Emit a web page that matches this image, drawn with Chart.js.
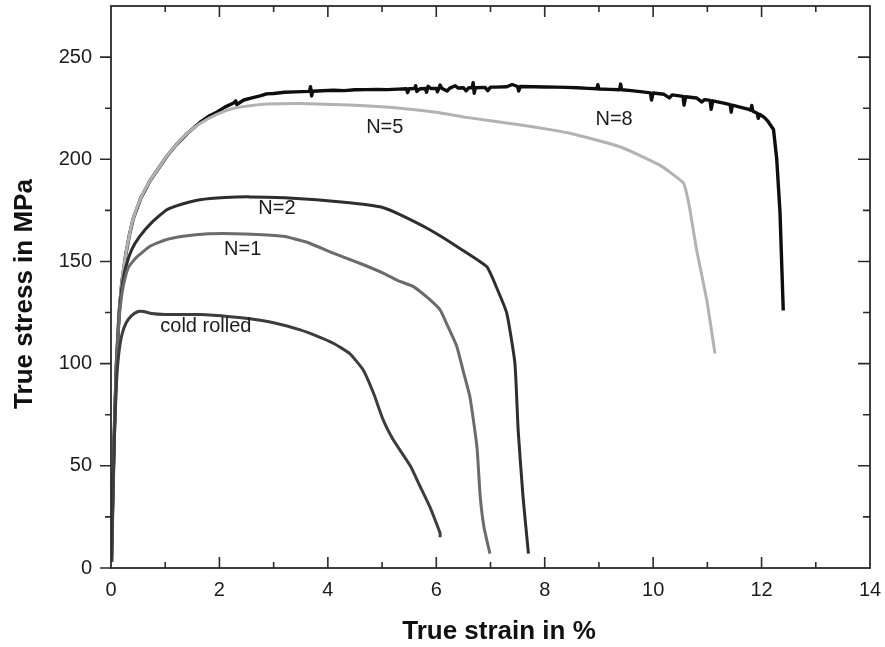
<!DOCTYPE html>
<html>
<head>
<meta charset="utf-8">
<script src="https://cdn.jsdelivr.net/npm/chart.js@4.4.0/dist/chart.umd.min.js"></script>
<style>
  html, body { margin: 0; padding: 0; background: #fff; }
</style>
</head>
<body>
<canvas id="myChart" width="885" height="647"></canvas>
<script>
// true strain (%) / true stress (MPa) pairs for each curve
var coldRolled = [
  [0.01, 3], [0.03, 30], [0.06, 62], [0.1, 90], [0.14, 104], [0.2, 114], [0.28, 120],
  [0.38, 123.5], [0.5, 125.5], [0.6, 125.5], [0.75, 124.5], [1.0, 124], [1.3, 124],
  [1.64, 124], [2.2, 123], [2.56, 122], [3.0, 120], [3.49, 116.5], [3.8, 113.5],
  [4.1, 110], [4.4, 105], [4.65, 97], [4.85, 85], [5.02, 72.5], [5.2, 63], [5.52, 50],
  [5.7, 40], [5.88, 30], [6.0, 22], [6.07, 17], [6.07, 15]
];

var n1 = [
  [0.01, 3], [0.03, 30], [0.06, 65], [0.1, 100], [0.15, 122], [0.2, 134], [0.26, 142],
  [0.33, 147.5], [0.47, 152], [0.72, 157.4], [1.0, 160.5], [1.33, 162.3], [1.8, 163.5],
  [2.26, 163.6], [2.7, 163.2], [3.18, 162.3], [3.6, 159.5], [4.1, 154.1], [4.6, 149],
  [5.02, 144.3], [5.33, 140.2], [5.58, 137.7], [5.85, 132], [6.07, 126.3], [6.2, 119],
  [6.38, 108.3], [6.5, 96], [6.62, 83.8], [6.75, 59.3], [6.81, 35], [6.88, 20], [6.99, 7]
];

var n2 = [
  [0.01, 3], [0.03, 30], [0.06, 65], [0.1, 100], [0.15, 124], [0.2, 137], [0.27, 147],
  [0.38, 155.7], [0.53, 162.3], [0.75, 169], [1.03, 175.3], [1.3, 178], [1.64, 180.2],
  [2.1, 181.3], [2.56, 181.6], [3.2, 181.2], [3.79, 180.2], [4.3, 179], [4.72, 177.8],
  [5.0, 176.5], [5.33, 172.9], [5.88, 165.5], [6.4, 157], [6.93, 147.5], [7.1, 138],
  [7.3, 124.7], [7.45, 100.2], [7.51, 67.5], [7.6, 34.8], [7.7, 7]
];

var n5 = [
  [0.01, 3], [0.03, 30], [0.06, 65], [0.1, 100], [0.15, 125], [0.2, 140], [0.27, 153],
  [0.34, 163], [0.41, 171], [0.55, 181], [0.72, 189.5], [0.9, 196.5], [1.03, 201.5],
  [1.2, 207], [1.4, 212.5], [1.64, 217.5], [1.95, 222], [2.26, 225], [2.6, 226.3],
  [2.87, 227], [3.49, 227.3], [4.4, 226.5], [5.33, 225], [6.0, 223], [6.56, 220.5],
  [7.5, 217], [8.1, 214.5], [8.5, 212.5], [9.4, 206], [10.13, 197], [10.56, 188.4],
  [10.62, 183], [10.68, 175], [10.8, 156], [10.99, 131], [11.14, 105]
];

var n8 = [
  [0.01, 3], [0.03, 30], [0.06, 65], [0.1, 100], [0.15, 125], [0.2, 140], [0.27, 153],
  [0.34, 163], [0.41, 171], [0.55, 181], [0.72, 189.5], [0.9, 196.5], [1.03, 201.5],
  [1.2, 207], [1.4, 212.5], [1.64, 218], [1.8, 221], [1.95, 223], [2.1, 225.5],
  [2.26, 227.5], [2.3, 228.6], [2.32, 226.8], [2.45, 229], [2.6, 230], [2.75, 231],
  [2.87, 232], [3.0, 232.2], [3.2, 232.8], [3.4, 233], [3.66, 233.2], [3.68, 235.5],
  [3.7, 231], [3.72, 233.3], [3.9, 233.5], [4.1, 233.8], [4.3, 233.6], [4.5, 234],
  [4.7, 234.1], [4.9, 234.2], [5.1, 234.1], [5.3, 234.3], [5.45, 234.5], [5.47, 232.6],
  [5.5, 234.5], [5.6, 234.6], [5.62, 236], [5.64, 233.2], [5.7, 234.5], [5.8, 234.6],
  [5.82, 232.8], [5.85, 235.7], [5.9, 234.6], [6.0, 234.7], [6.02, 233], [6.05, 234.8],
  [6.07, 236.3], [6.1, 234.8], [6.2, 233.4], [6.25, 234.8], [6.35, 236], [6.4, 234.9],
  [6.5, 235], [6.55, 233.5], [6.6, 235], [6.66, 235], [6.68, 237.5], [6.7, 232.3],
  [6.72, 235], [6.9, 235.2], [6.95, 233.6], [7.0, 235.3], [7.1, 235.3], [7.3, 235.5],
  [7.4, 236.6], [7.5, 235.6], [7.52, 233.4], [7.55, 235.6], [7.8, 235.5], [8.0, 235.4],
  [8.2, 235.3], [8.4, 235.2], [8.6, 235], [8.8, 234.7], [8.96, 234.5], [8.98, 236.5],
  [9.0, 234.4], [9.2, 234.2], [9.38, 234], [9.4, 236.8], [9.42, 234], [9.6, 233.6],
  [9.8, 233], [9.95, 232.5], [9.97, 229], [10.0, 232.4], [10.2, 231.8], [10.3, 230],
  [10.35, 231.5], [10.55, 230.8], [10.57, 226.5], [10.6, 230.6], [10.8, 230],
  [10.9, 228], [10.95, 229.2], [11.05, 228.8], [11.07, 224.5], [11.1, 228.6],
  [11.3, 227.5], [11.42, 226.7], [11.44, 223], [11.46, 226.5], [11.6, 225.5],
  [11.75, 224.5], [11.8, 224], [11.82, 226.3], [11.84, 223.5], [11.92, 222.5],
  [11.94, 220], [11.96, 222], [12.05, 220.5], [12.12, 218.5], [12.22, 214.6],
  [12.28, 200], [12.34, 174], [12.37, 150], [12.4, 126]
];

var seriesNames = ["cold rolled", "N=1", "N=2", "N=5", "N=8"];
var seriesColors = ["#3d3d3d", "#6b6b6b", "#2e2e2e", "#b2b2b2", "#0e0e0e"];
var seriesWidths = [3, 3, 3, 3, 3.4];
var seriesTension = [0.15, 0.15, 0.15, 0.15, 0];

// curve labels, placed in data coordinates
var labelText = ["cold rolled", "N=1", "N=2", "N=5", "N=8"];
var labelX = [1.75, 2.43, 3.06, 5.05, 9.28];
var labelY = [118, 156, 175.8, 215.5, 219.5];

var xTitle = "True strain in %";
var yTitle = "True stress in MPa";

function toPoints(arr) {
  return arr.map(function (p) { return { x: p[0], y: p[1] }; });
}

var allSeries = [coldRolled, n1, n2, n5, n8];
var datasets = allSeries.map(function (s, i) {
  return {
    label: seriesNames[i],
    data: toPoints(s),
    showLine: true,
    borderColor: seriesColors[i],
    borderWidth: seriesWidths[i],
    borderJoinStyle: 'round',
    pointRadius: 0,
    tension: seriesTension[i],
    fill: false
  };
});

// frame, inward/outward tick marks, curve labels and axis titles
var framePlugin = {
  id: 'frame',
  afterDatasetsDraw: function (chart) {
    var c = chart.ctx;
    var a = chart.chartArea;
    var xs = chart.scales.x, ys = chart.scales.y;
    c.save();
    c.strokeStyle = '#2b2b2b';
    c.lineWidth = 1.8;
    c.strokeRect(a.left, a.top, a.right - a.left, a.bottom - a.top);

    c.lineWidth = 1.6;
    c.beginPath();
    for (var v = 1; v < 14; v++) {
      var px = xs.getPixelForValue(v);
      var len = (v % 2 === 0) ? 11 : 6;
      c.moveTo(px, a.bottom); c.lineTo(px, a.bottom - len);
      c.moveTo(px, a.top); c.lineTo(px, a.top + len);
    }
    for (var w = 0; w <= 250; w += 25) {
      var py = ys.getPixelForValue(w);
      var l2 = (w % 50 === 0) ? 11 : 6;
      c.moveTo(a.left, py); c.lineTo(a.left - l2, py);
      if (w > 0) { c.moveTo(a.right, py); c.lineTo(a.right - l2 - 1, py); }
    }
    c.stroke();

    c.fillStyle = '#1c1c1c';
    c.font = '20px "Liberation Sans", Arial, sans-serif';
    c.textAlign = 'center';
    c.textBaseline = 'middle';
    for (var i = 0; i < labelText.length; i++) {
      c.fillText(labelText[i], xs.getPixelForValue(labelX[i]), ys.getPixelForValue(labelY[i]));
    }

    c.fillStyle = '#111';
    c.font = 'bold 26px "Liberation Sans", Arial, sans-serif';
    c.fillText(xTitle, 499, 632);
    c.translate(25, 294);
    c.rotate(-Math.PI / 2);
    c.fillText(yTitle, 0, 0);
    c.restore();
  }
};

var ctx = document.getElementById("myChart").getContext("2d");
var tickFont = { family: '"Liberation Sans", Arial, sans-serif', size: 20 };

var myChart = new Chart(ctx, {
  type: 'scatter',
  data: { datasets: datasets },
  options: {
    responsive: false,
    animation: false,
    layout: { padding: { top: 6, right: 15, left: 0, bottom: 0 } },
    plugins: {
      legend: { display: false },
      tooltip: { enabled: false }
    },
    scales: {
      x: {
        type: 'linear',
        min: 0,
        max: 14,
        ticks: { stepSize: 2, padding: 10, font: tickFont, color: '#1c1c1c' },
        grid: { display: false, drawTicks: false },
        border: { display: false },
        afterFit: function (s) {
          s.height = 79;
          s.paddingLeft = 0; s.paddingRight = 0;
        }
      },
      y: {
        type: 'linear',
        min: 0,
        max: 275,
        ticks: { stepSize: 50, includeBounds: false, padding: 19, font: tickFont, color: '#1c1c1c' },
        grid: { display: false, drawTicks: false },
        border: { display: false },
        afterFit: function (s) {
          s.width = 111;
          s.paddingTop = 0; s.paddingBottom = 0;
        }
      }
    }
  },
  plugins: [framePlugin]
});
</script>
</body>
</html>
